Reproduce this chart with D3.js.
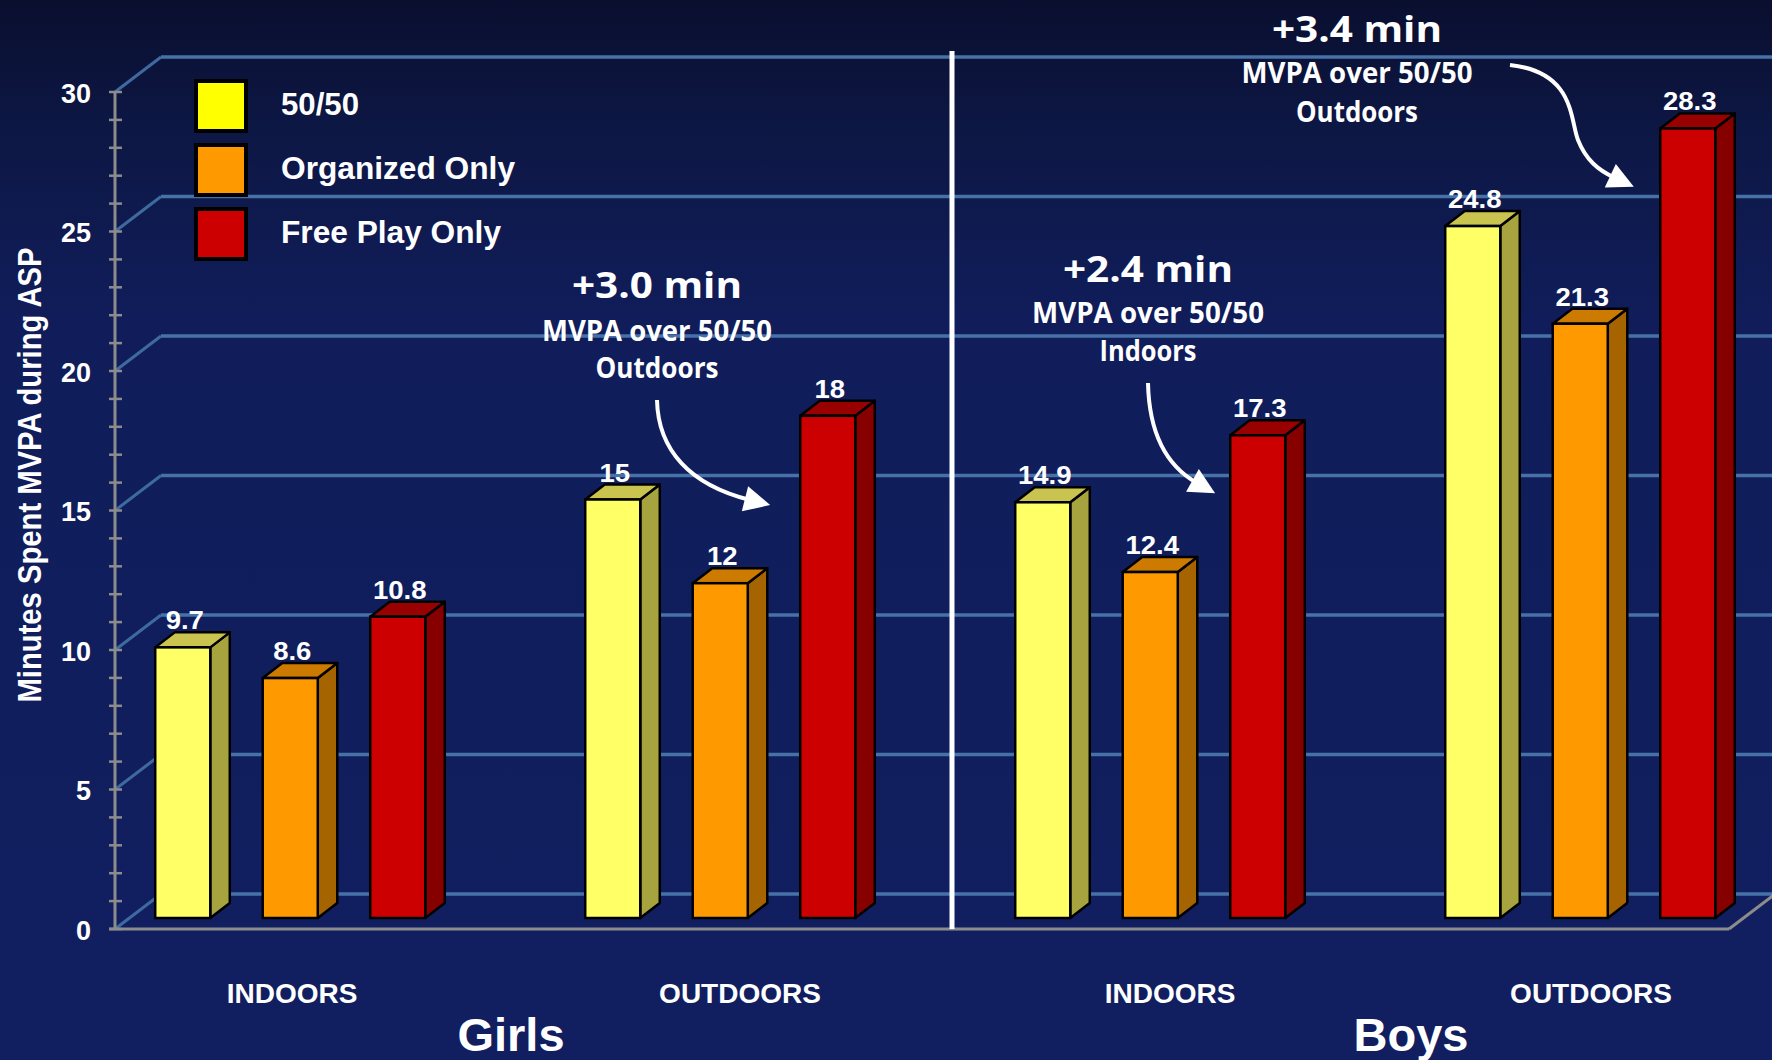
<!DOCTYPE html>
<html>
<head>
<meta charset="utf-8">
<script src="https://cdn.jsdelivr.net/npm/d3@7"></script>
<style>
  html, body { margin: 0; padding: 0; background: #0c1440; }
  svg { display: block; }
  text { font-family: "Liberation Sans", Arial, sans-serif; font-weight: bold; fill: #ffffff; }
  .note { font-family: "Open Sans", "Noto Sans", sans-serif; }
</style>
</head>
<body>
<svg id="chart" width="1772" height="1060"></svg>
<script>
// ---- data ----
const groups = ["Girls Indoors", "Girls Outdoors", "Boys Indoors", "Boys Outdoors"];
const groupLabels = ["INDOORS", "OUTDOORS", "INDOORS", "OUTDOORS"];
const series = ["50/50", "Organized Only", "Free Play Only"];
const values5050 = [9.7, 15, 14.9, 24.8];
const valuesOrganized = [8.6, 12, 12.4, 21.3];
const valuesFreePlay = [10.8, 18, 17.3, 28.3];
const yTicks = [0, 5, 10, 15, 20, 25, 30];
const yTitle = "Minutes Spent MVPA during ASP";
const sexLabels = ["Girls", "Boys"];

const seriesValues = [values5050, valuesOrganized, valuesFreePlay];

// face colours per series: front, side, top, legend swatch
const palette = [
  { front: "#ffff66", side: "#a7a43f", top: "#c9c44f", swatch: "#ffff00" },
  { front: "#ff9900", side: "#a66400", top: "#cc7a00", swatch: "#ff9900" },
  { front: "#cc0000", side: "#870000", top: "#990000", swatch: "#cc0000" }
];

const svg = d3.select("#chart");
const W = 1772, H = 1060;

// background gradient
const defs = svg.append("defs");
const bg = defs.append("linearGradient").attr("id", "bg").attr("x1", 0).attr("y1", 0).attr("x2", 0).attr("y2", 1);
bg.append("stop").attr("offset", "0%").attr("stop-color", "#0a0f2f");
bg.append("stop").attr("offset", "12%").attr("stop-color", "#0d1744");
bg.append("stop").attr("offset", "30%").attr("stop-color", "#101d5a");
bg.append("stop").attr("offset", "100%").attr("stop-color", "#111f61");
svg.append("rect").attr("width", W).attr("height", H).attr("fill", "url(#bg)");

// ---- scales ----
const axisX = 115;                 // front y axis
const floorRight = 1729;           // front right edge of the floor
const depth = { dx: 46, dy: -35 }; // full depth of the 3-D box
const barFront = { dx: 14.5, dy: -11 }; // bar front plane inside the box
const barDepth = { dx: 19.5, dy: -15 }; // thickness of each bar

const y = d3.scaleLinear().domain([0, 30]).range([929, 92]);
const x0 = d3.scaleBand().domain(groups).range([129, 1849]).paddingInner(0);
const x1 = d3.scaleBand().domain(series).range([0, 322.5]).paddingInner(0.488).paddingOuter(0.244);

// ---- back wall grid ----
const grid = svg.append("g");
grid.selectAll("line.back").data(yTicks).join("line")
  .attr("x1", axisX + depth.dx).attr("x2", W + 5)
  .attr("y1", d => y(d) + depth.dy).attr("y2", d => y(d) + depth.dy)
  .attr("stroke", "#4672a8").attr("stroke-width", 3.5);
grid.selectAll("line.side").data(yTicks).join("line")
  .attr("x1", axisX).attr("y1", d => y(d))
  .attr("x2", axisX + depth.dx).attr("y2", d => y(d) + depth.dy)
  .attr("stroke", "#3e6aa0").attr("stroke-width", 3);

// floor front edge and right edge
svg.append("line").attr("x1", axisX - 6).attr("x2", floorRight)
  .attr("y1", y(0)).attr("y2", y(0)).attr("stroke", "#8c8c8c").attr("stroke-width", 3);
svg.append("line").attr("x1", floorRight).attr("y1", y(0))
  .attr("x2", floorRight + depth.dx).attr("y2", y(0) + depth.dy)
  .attr("stroke", "#8c8c8c").attr("stroke-width", 3);

// ---- y axis ----
const yAxis = d3.axisLeft(y).tickValues(yTicks).tickSize(0).tickPadding(0).tickFormat(d3.format("d"));
const gy = svg.append("g").attr("transform", `translate(${axisX},0)`).call(yAxis);
gy.select(".domain").remove();
gy.selectAll(".tick text")
  .attr("x", -24).attr("dy", "0.38em").attr("fill", "#ffffff")
  .style("font-family", "Liberation Sans, Arial, sans-serif").style("font-weight", "bold").style("font-size", "27px");
svg.append("line").attr("x1", axisX).attr("x2", axisX).attr("y1", y(30)).attr("y2", y(0))
  .attr("stroke", "#8c8c8c").attr("stroke-width", 3);
svg.append("g").selectAll("line").data(d3.range(0, 31)).join("line")
  .attr("x1", axisX - 6).attr("x2", axisX + 7)
  .attr("y1", d => y(d)).attr("y2", d => y(d))
  .attr("stroke", "#8c8c8c").attr("stroke-width", 2.5);

svg.append("text")
  .attr("transform", `translate(41,475) rotate(-90)`)
  .attr("text-anchor", "middle")
  .attr("textLength", 455).attr("lengthAdjust", "spacingAndGlyphs")
  .style("font-size", "33px")
  .text(yTitle);

// ---- bars ----
const bars = [];
groups.forEach((g, gi) => {
  series.forEach((s, si) => {
    bars.push({ group: g, gi, series: s, si, value: seriesValues[si][gi] });
  });
});

const barW = x1.bandwidth();
const gBars = svg.append("g");
const barG = gBars.selectAll("g.bar").data(bars).join("g").attr("class", "bar");

function geom(d) {
  const xl = x0(d.group) + x1(d.series);
  const xr = xl + barW;
  const yb = y(0) + barFront.dy;
  const yt = y(d.value) + barFront.dy;
  return { xl, xr, yb, yt };
}

barG.append("path") // side face
  .attr("d", d => {
    const { xr, yb, yt } = geom(d);
    return `M${xr},${yb}L${xr + barDepth.dx},${yb + barDepth.dy}L${xr + barDepth.dx},${yt + barDepth.dy}L${xr},${yt}Z`;
  })
  .attr("fill", d => palette[d.si].side).attr("stroke", "#000").attr("stroke-width", 2.5).attr("stroke-linejoin", "round");
barG.append("path") // top face
  .attr("d", d => {
    const { xl, xr, yt } = geom(d);
    return `M${xl},${yt}L${xl + barDepth.dx},${yt + barDepth.dy}L${xr + barDepth.dx},${yt + barDepth.dy}L${xr},${yt}Z`;
  })
  .attr("fill", d => palette[d.si].top).attr("stroke", "#000").attr("stroke-width", 2.5).attr("stroke-linejoin", "round");
barG.append("rect") // front face
  .attr("x", d => geom(d).xl).attr("y", d => geom(d).yt)
  .attr("width", barW).attr("height", d => geom(d).yb - geom(d).yt)
  .attr("fill", d => palette[d.si].front).attr("stroke", "#000").attr("stroke-width", 2.5);

barG.append("text")
  .attr("transform", d => { const q = geom(d); return `translate(${q.xl + barW / 2 + 2},${q.yt - 18}) scale(1.1,1)`; })
  .attr("text-anchor", "middle")
  .style("font-size", "25px")
  .text(d => String(d.value));

// ---- category labels (centred under each cluster, with small hand offsets) ----
const labelNudge = [-8, 10, 10, 1];
svg.append("g").selectAll("text").data(groups).join("text")
  .attr("x", (g, i) => x0(g) + x1(series[1]) + barW / 2 + barDepth.dx / 2 + labelNudge[i])
  .attr("y", 1003)
  .attr("text-anchor", "middle")
  .style("font-size", "28px")
  .text((g, i) => groupLabels[i]);

const sexX = [511, 1411];
svg.append("g").selectAll("text").data(sexLabels).join("text")
  .attr("x", (d, i) => sexX[i]).attr("y", 1051)
  .attr("text-anchor", "middle")
  .style("font-size", "47px")
  .text(d => d);

// divider between girls and boys
svg.append("line").attr("x1", 952).attr("x2", 952).attr("y1", 51).attr("y2", 929)
  .attr("stroke", "#ffffff").attr("stroke-width", 5);

// ---- legend ----
const legend = svg.append("g");
const lg = legend.selectAll("g").data(series).join("g")
  .attr("transform", (d, i) => `translate(196,${81 + i * 64})`);
lg.append("rect").attr("width", 50).attr("height", 50)
  .attr("fill", (d, i) => palette[i].swatch).attr("stroke", "#000").attr("stroke-width", 4);
const legendWidths = [78, 234, 220];
lg.append("text").attr("x", 85).attr("y", 34)
  .attr("textLength", (d, i) => legendWidths[i]).attr("lengthAdjust", "spacingAndGlyphs")
  .style("font-size", "31px").text(d => d);

// ---- annotations ----
const notes = [
  { x: 657, lines: [["+3.0 min", 298, 36, 170], ["MVPA over 50/50", 341, 29, 230], ["Outdoors", 378, 29, 123]] },
  { x: 1148, lines: [["+2.4 min", 282, 36, 170], ["MVPA over 50/50", 323, 29, 232], ["Indoors", 361, 29, 97]] },
  { x: 1357, lines: [["+3.4 min", 42, 36, 170], ["MVPA over 50/50", 83, 29, 231], ["Outdoors", 122, 29, 122]] }
];
notes.forEach(n => {
  svg.append("g").selectAll("text").data(n.lines).join("text")
    .attr("class", "note")
    .attr("x", n.x).attr("y", l => l[1])
    .attr("text-anchor", "middle")
    .attr("textLength", l => l[3]).attr("lengthAdjust", "spacingAndGlyphs")
    .style("font-size", l => l[2] + "px")
    .text(l => l[0]);
});

defs.append("marker").attr("id", "head")
  .attr("viewBox", "0 0 10 10").attr("refX", 2).attr("refY", 5)
  .attr("markerWidth", 28).attr("markerHeight", 26)
  .attr("markerUnits", "userSpaceOnUse").attr("orient", "auto")
  .append("path").attr("d", "M0,0L10,5L0,10Z").attr("fill", "#ffffff");

const arrows = [
  "M657,400 C658,450 690,485 750,500",
  "M1148,383 C1149,430 1165,465 1197,483",
  "M1510,65 C1575,72 1570,120 1578,140 C1586,160 1598,170 1615,178"
];
svg.append("g").selectAll("path").data(arrows).join("path")
  .attr("d", d => d).attr("fill", "none")
  .attr("stroke", "#ffffff").attr("stroke-width", 4)
  .attr("marker-end", "url(#head)");
</script>
</body>
</html>
